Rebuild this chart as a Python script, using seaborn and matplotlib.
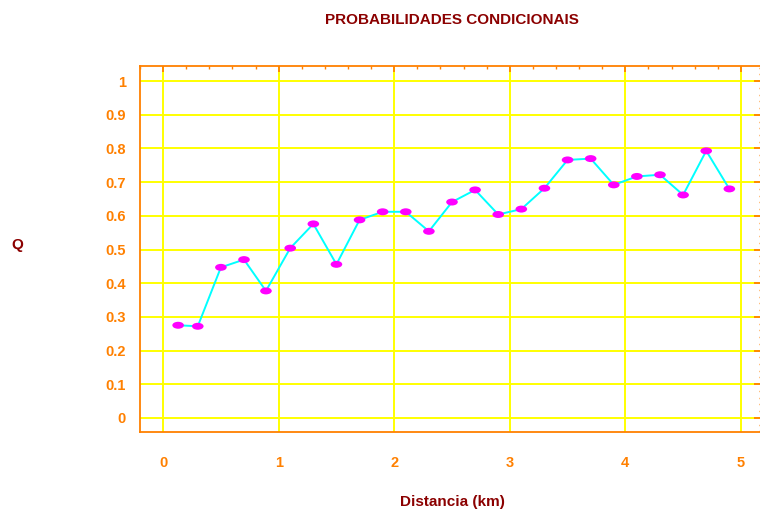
import numpy as np
import pandas as pd
import matplotlib
matplotlib.use('Agg')
import matplotlib.pyplot as plt
from matplotlib.path import Path
from matplotlib.ticker import MultipleLocator
import seaborn as sns

# Dados
distancia = [0.13, 0.30, 0.50, 0.70, 0.89, 1.10, 1.30, 1.50, 1.70, 1.90,
             2.10, 2.30, 2.50, 2.70, 2.90, 3.10, 3.30, 3.50, 3.70, 3.90,
             4.10, 4.30, 4.50, 4.70, 4.90]
q = [0.275, 0.272, 0.447, 0.470, 0.377, 0.504, 0.576, 0.456, 0.588, 0.612,
     0.612, 0.554, 0.641, 0.677, 0.604, 0.620, 0.682, 0.766, 0.770, 0.692,
     0.717, 0.722, 0.662, 0.793, 0.680]
xticks = [0, 1, 2, 3, 4, 5]
yticks = [0, 0.1, 0.2, 0.3, 0.4, 0.5, 0.6, 0.7, 0.8, 0.9, 1.0]
ytick_labels = ['0', '0.1', '0.2', '0.3', '0.4', '0.5', '0.6', '0.7', '0.8', '0.9', '1']

df = pd.DataFrame({'Distancia': distancia, 'Q': q})

laranja = '#ff8000'
vermelho = '#8b0000'

sns.set_style('white')
plt.rcParams['font.family'] = ['Liberation Sans', 'DejaVu Sans']

fig = plt.figure(figsize=(7.6, 5.11), dpi=100)
ax = fig.add_axes([140 / 760, 1 - 432 / 511, 624 / 760, 366 / 511])

# marcador elíptico
circ = Path.unit_circle()
elipse = Path(circ.vertices * np.array([1.0, 0.6]), circ.codes)

sns.lineplot(data=df, x='Distancia', y='Q', ax=ax, color='#00ffff', lw=1.4, zorder=3)
sns.scatterplot(data=df, x='Distancia', y='Q', ax=ax, marker=elipse, s=70,
                color='#ff00ff', edgecolor='none', zorder=4)

ax.set_xlim(-0.2, 5.2)
ax.set_ylim(-0.042, 1.045)
ax.set_xticks(xticks)
ax.set_xticklabels([str(t) for t in xticks])
ax.set_yticks(yticks)
ax.set_yticklabels(ytick_labels)
ax.xaxis.set_minor_locator(MultipleLocator(0.2))
ax.yaxis.set_minor_locator(MultipleLocator(0.02))

ax.grid(True, which='major', color='#ffff00', lw=1.4)
ax.set_axisbelow(True)

for s in ax.spines.values():
    s.set_color(laranja)
    s.set_linewidth(1.3)

ax.tick_params(axis='both', which='both', direction='in', colors=laranja,
               top=True, right=True, labelcolor=laranja)
ax.tick_params(axis='y', which='major', length=7, width=1.3, pad=10)
ax.tick_params(axis='y', which='minor', length=3.5, width=1.0)
ax.tick_params(axis='x', which='major', length=4, width=1.3, pad=17)
ax.tick_params(axis='x', which='minor', length=2.5, width=1.0)
for lab in ax.get_xticklabels() + ax.get_yticklabels():
    lab.set_fontweight('bold')
    lab.set_fontsize(10.5)

ax.set_xlabel('Distancia (km)', color=vermelho, fontweight='bold', fontsize=11, labelpad=18)
ax.set_ylabel('Q', color=vermelho, fontweight='bold', fontsize=11, rotation=0,
              ha='center', va='center')
ax.yaxis.set_label_coords(-0.196, 0.51)
ax.set_title('PROBABILIDADES CONDICIONAIS', color=vermelho, fontweight='bold',
             fontsize=11, pad=30)

fig.savefig('out.png', dpi=100)
